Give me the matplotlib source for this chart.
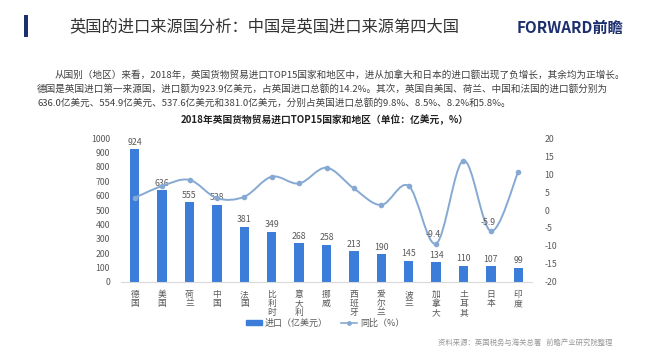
import numpy as np
import matplotlib
matplotlib.use("Agg")
import matplotlib.pyplot as plt
from matplotlib.path import Path
from matplotlib.patches import PathPatch, Rectangle
from matplotlib.lines import Line2D

plt.rcParams['font.family'] = ['Noto Sans CJK SC', 'DejaVu Sans']
plt.rcParams['axes.unicode_minus'] = False

# data
countries = ["德国", "美国", "荷兰", "中国", "法国", "比利时", "意大利", "挪威",
             "西班牙", "爱尔兰", "波兰", "加拿大", "土耳其", "日本", "印度"]
imports = [924, 636, 555, 538, 381, 349, 268, 258, 213, 190, 145, 134, 110, 107, 99]
yoy = [3.4, 6.7, 8.4, 3.3, 3.7, 9.3, 7.4, 11.8, 6.0, 1.4, 6.7, -9.4, 13.8, -5.9, 10.7]
shown_yoy = {11: "-9.4", 13: "-5.9"}

W, H = 650, 358
fig = plt.figure(figsize=(W / 100, H / 100), dpi=100)
fig.patch.set_facecolor("white")


def fx(x):
    return x / W


def fy(y):
    return 1 - y / H


# header
fig.patches.append(Rectangle((fx(24), fy(37)), 4 / W, 22 / H, transform=fig.transFigure,
                             color="#1c2f6e", lw=0))
fig.text(fx(69), fy(27), "英国的进口来源国分析：中国是英国进口来源第四大国",
         fontsize=11.7, color="#333333", va="center", ha="left")
fig.text(fx(623), fy(28), "FORWARD前瞻", fontsize=11, fontweight="bold",
         color="#1c2f6e", va="center", ha="right")

# paragraph
para = [
    (55, 75, "从国别（地区）来看，2018年，英国货物贸易进口TOP15国家和地区中，进从加拿大和日本的进口额出现了负增长，其余均为正增长。"),
    (37, 89, "德国是英国进口第一来源国，进口额为923.9亿美元，占英国进口总额的14.2%。其次，英国自美国、荷兰、中国和法国的进口额分别为"),
    (37, 103, "636.0亿美元、554.9亿美元、537.6亿美元和381.0亿美元，分别占英国进口总额的9.8%、8.5%、8.2%和5.8%。"),
]
for x, y, s in para:
    fig.text(fx(x), fy(y), s, fontsize=6.9, color="#404040", va="center", ha="left")

fig.text(fx(325), fy(120), "2018年英国货物贸易进口TOP15国家和地区（单位：亿美元，%）",
         fontsize=7, fontweight="bold", color="#222222", va="center", ha="center")

# chart
ax = fig.add_axes([fx(121), fy(281.7), 411 / W, 143.4 / H])
x = np.arange(len(countries))
bar_color = "#3b7dd8"
ax.bar(x, imports, width=0.34, color=bar_color, zorder=2)
ax.set_ylim(0, 1000)
ax.set_xlim(-0.5, len(countries) - 0.5)
ax.set_yticks(range(0, 1001, 100))
for sp in ["top", "right", "left"]:
    ax.spines[sp].set_visible(False)
ax.spines["bottom"].set_color("#d9d9d9")
ax.tick_params(axis="y", length=0, labelsize=6.3, labelcolor="#595959", pad=8)
ax.set_xticks(x)
ax.set_xticklabels(["\n".join(c) for c in countries], fontsize=6.3, color="#595959",
                   linespacing=1.0, va="top")
ax.tick_params(axis="x", length=0, pad=6)
for i, v in enumerate(imports):
    ax.text(i, v + 18, str(v), ha="center", va="bottom", fontsize=6.3, color="#595959")

ax2 = ax.twinx()
ax2.set_ylim(-20, 20)
ax2.set_yticks(range(-20, 21, 5))
for sp in ["top", "right", "left", "bottom"]:
    ax2.spines[sp].set_visible(False)
ax2.tick_params(axis="y", length=0, labelsize=6.3, labelcolor="#595959", pad=9)

line_color = "#86a9d3"
# smooth curve through the points (Catmull-Rom as cubic Bezier)
pts = np.column_stack([x, yoy]).astype(float)
verts = [tuple(pts[0])]
codes = [Path.MOVETO]
for i in range(len(pts) - 1):
    p0 = pts[i - 1] if i > 0 else pts[i]
    p1, p2 = pts[i], pts[i + 1]
    p3 = pts[i + 2] if i + 2 < len(pts) else pts[i + 1]
    c1 = p1 + (p2 - p0) / 6
    c2 = p2 - (p3 - p1) / 6
    verts += [tuple(c1), tuple(c2), tuple(p2)]
    codes += [Path.CURVE4] * 3
ax2.add_patch(PathPatch(Path(verts, codes), fc="none", ec=line_color, lw=1.4, zorder=3))
ax2.plot(x, yoy, "o", color=line_color, ms=3, zorder=4)
for i, s in shown_yoy.items():
    ax2.text(i - 0.1, yoy[i] + 1.2, s, ha="center", va="bottom", fontsize=6.3, color="#595959")

handles = [Rectangle((0, 0), 1, 1, color=bar_color),
           Line2D([], [], color=line_color, marker="o", ms=2.5, lw=1.2)]
fig.legend(handles, ["进口（亿美元）", "同比（%）"], loc="center", ncol=2,
           bbox_to_anchor=(fx(325), fy(323)), frameon=False, fontsize=6.5,
           handlelength=1.8, handleheight=0.5, columnspacing=1.5, handletextpad=0.3,
           labelcolor="#595959")

fig.text(fx(613), fy(343), "资料来源：英国税务与海关总署   前瞻产业研究院整理",
         fontsize=5.3, color="#999999", ha="right", va="center")

fig.savefig("out.png", dpi=100, facecolor="white")
